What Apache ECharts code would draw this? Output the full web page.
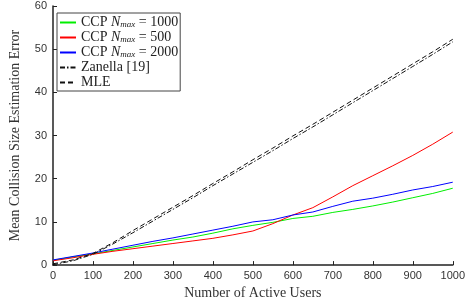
<!DOCTYPE html>
<html>
<head>
<meta charset="utf-8">
<script src="https://cdn.jsdelivr.net/npm/echarts@6/dist/echarts.min.js"></script>
<style>
  html, body { margin: 0; padding: 0; background: #fff; }
  #chart { width: 468px; height: 305px; }
</style>
</head>
<body>
<div id="chart"></div>
<script>
// number of active users
const users = [0, 50, 100, 150, 200, 250, 300, 350, 400, 450, 500,
  550, 600, 650, 700, 750, 800, 850, 900, 950, 1000];

const ccp1000 = [1.1, 1.9, 2.6, 3.4, 4.2, 5.0, 5.8, 6.5, 7.4, 8.4, 9.2,
  9.9, 10.8, 11.3, 12.2, 12.9, 13.7, 14.6, 15.6, 16.6, 17.8];
const ccp500 = [1.0, 1.7, 2.5, 3.2, 3.8, 4.4, 5.0, 5.6, 6.2, 7.0, 7.9,
  9.6, 11.6, 13.3, 15.8, 18.4, 20.7, 23.0, 25.4, 28.0, 30.8];
const ccp2000 = [1.2, 2.0, 2.8, 3.7, 4.6, 5.5, 6.3, 7.2, 8.1, 9.0, 10.0,
  10.5, 11.6, 12.3, 13.6, 14.8, 15.5, 16.4, 17.4, 18.2, 19.2];
const zanella = [0.1, 1.0, 2.5, 4.9, 7.5, 10.2, 12.9, 15.6, 18.4, 21.1, 23.8,
  26.5, 29.3, 32.0, 34.8, 37.6, 40.4, 43.2, 46.0, 48.8, 51.7];
const mle = [0.3, 1.2, 2.7, 5.2, 8.0, 10.7, 13.4, 16.1, 18.9, 21.6, 24.4,
  27.1, 29.9, 32.6, 35.4, 38.2, 41.0, 43.8, 46.6, 49.4, 52.3];

const legendNames = ['CCP 1000', 'CCP 500', 'CCP 2000', 'Zanella [19]', 'MLE'];

const pairs = ys => users.map((u, i) => [u, ys[i]]);

const serif = 'Liberation Serif';
const chart = echarts.init(document.getElementById('chart'));

function lineSeries(name, ys, color, type) {
  return {
    name: name,
    type: 'line',
    data: pairs(ys),
    symbol: 'none',
    lineStyle: { color: color, width: 1, type: type || 'solid' },
    itemStyle: { color: color },
    z: type ? 3 : 2
  };
}

chart.setOption({
  animation: false,
  grid: { left: 50, right: 11, top: 6, bottom: 36 },
  legend: {
    show: true,
    orient: 'vertical',
    left: 57,
    top: 13,
    backgroundColor: '#fff',
    borderColor: '#444',
    borderWidth: 1,
    padding: [2, 2, 1, 2],
    itemWidth: 16,
    itemHeight: 10,
    itemGap: 0,
    itemStyle: { opacity: 0 },
    textStyle: {
      fontFamily: serif,
      fontSize: 14,
      lineHeight: 15,
      color: '#222',
      rich: {
        i: { fontFamily: serif, fontSize: 14, lineHeight: 15, fontStyle: 'italic', color: '#222' },
        s: { fontFamily: serif, fontSize: 9, lineHeight: 15, fontStyle: 'italic', color: '#222', padding: [5, 0, 0, 0] }
      }
    },
    formatter: function (name) {
      const m = name.match(/^CCP (\d+)$/);
      if (m) return 'CCP {i|N}{s|max} = ' + m[1];
      return name;
    },
    data: legendNames
  },
  xAxis: {
    type: 'value',
    min: 0,
    max: 1000,
    interval: 100,
    name: 'Number of Active Users',
    nameLocation: 'middle',
    nameGap: 20,
    nameTextStyle: { fontFamily: serif, fontSize: 14, color: '#333' },
    axisLine: { lineStyle: { color: '#222', width: 1.5 } },
    axisTick: { inside: true, length: 4, lineStyle: { color: '#222', width: 1 } },
    axisLabel: { fontFamily: 'Liberation Sans', fontSize: 11, color: '#333', margin: 5,
      formatter: v => String(v) },
    splitLine: { show: false }
  },
  yAxis: {
    type: 'value',
    min: 0,
    max: 60,
    interval: 10,
    name: 'Mean Collision Size Estimation Error',
    nameLocation: 'middle',
    nameGap: 31,
    nameTextStyle: { fontFamily: serif, fontSize: 14, color: '#333' },
    axisLine: { show: true, lineStyle: { color: '#222', width: 1.5 } },
    axisTick: { show: true, inside: true, length: 4, lineStyle: { color: '#222', width: 1 } },
    axisLabel: { fontFamily: 'Liberation Sans', fontSize: 11, color: '#333', margin: 6 },
    splitLine: { show: false }
  },
  series: [
    lineSeries('CCP 1000', ccp1000, '#00ee00'),
    lineSeries('CCP 500', ccp500, '#ff0000'),
    lineSeries('CCP 2000', ccp2000, '#0000ff'),
    lineSeries('Zanella [19]', zanella, '#111', [5, 2, 1.5, 2]),
    lineSeries('MLE', mle, '#111', [5, 3])
  ]
});
</script>
</body>
</html>
